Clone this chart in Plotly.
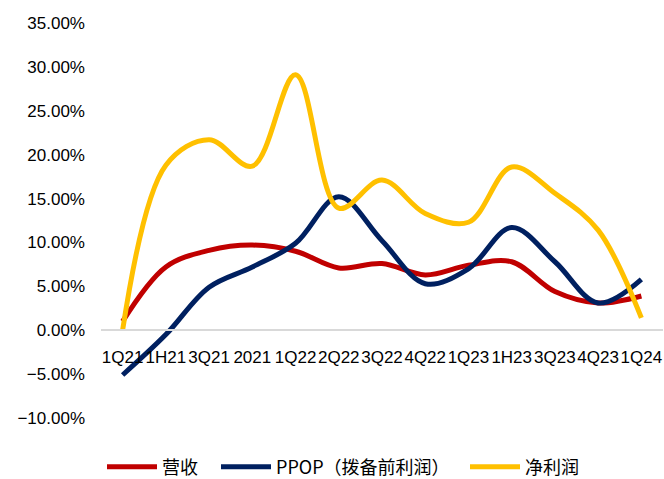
import plotly.graph_objects as go

categories = ["1Q21", "1H21", "3Q21", "2021", "1Q22", "2Q22", "3Q22", "4Q22",
              "1Q23", "1H23", "3Q23", "4Q23", "1Q24"]
revenue = [0.010, 0.072, 0.091, 0.097, 0.090, 0.071, 0.076, 0.063, 0.074, 0.078, 0.044, 0.031, 0.039]
ppop = [-0.051, -0.005, 0.049, 0.072, 0.099, 0.152, 0.102, 0.053, 0.070, 0.117, 0.078, 0.031, 0.058]
net_profit = [0.000, 0.188, 0.217, 0.187, 0.291, 0.139, 0.171, 0.133, 0.123, 0.186, 0.156, 0.114, 0.014]

names = ["营收", "PPOP（拨备前利润）", "净利润"]
colors = ["#C00000", "#002060", "#FFC000"]
series = [revenue, ppop, net_profit]
legends = ["legend", "legend2", "legend3"]

W, H = 664, 479
ML, MR, MT, MB = 101, 1, 23, 61
pw = W - ML - MR
ph = H - MT - MB

fig = go.Figure()
for name, col, vals, lg in zip(names, colors, series, legends):
    fig.add_trace(go.Scatter(
        x=categories, y=vals, name=name, mode="lines",
        line=dict(color=col, width=5, shape="spline", smoothing=1.0),
        legend=lg, showlegend=True,
    ))

ymin, ymax = -0.10, 0.35
zero_pos = (0 - ymin) / (ymax - ymin)

def lx(px):
    return (px - ML) / pw

leg_y = -(467 - (H - MB)) / ph
legfont = dict(family="Noto Sans CJK SC", size=18, color="#000000")
common = dict(orientation="h", yanchor="middle", y=leg_y, xanchor="left",
              font=legfont, bgcolor="rgba(0,0,0,0)", borderwidth=0, itemwidth=50)

fig.update_layout(
    width=W, height=H,
    margin=dict(l=ML, r=MR, t=MT, b=MB, autoexpand=False),
    paper_bgcolor="white", plot_bgcolor="white",
    showlegend=True,
    font=dict(family="Liberation Sans, Arial, sans-serif", size=17, color="#000000"),
    legend=dict(x=lx(102), **common),
    legend2=dict(x=lx(216), **common),
    legend3=dict(x=lx(465), **common),
    xaxis=dict(
        type="category", anchor="free", position=zero_pos,
        range=[-0.5, len(categories) - 0.5],
        showline=True, linecolor="#D9D9D9", linewidth=1.5,
        showgrid=False, ticks="", tickangle=0, ticklabelstandoff=12,
        tickfont=dict(family="Liberation Sans, Arial, sans-serif", size=17),
    ),
    yaxis=dict(
        range=[ymin, ymax], dtick=0.05, tick0=0, tickformat=".2%",
        showgrid=False, zeroline=False, showline=False, ticks="",
        ticklabelstandoff=15,
        tickfont=dict(family="Liberation Sans, Arial, sans-serif", size=17),
    ),
)

fig.write_html("out.html")
